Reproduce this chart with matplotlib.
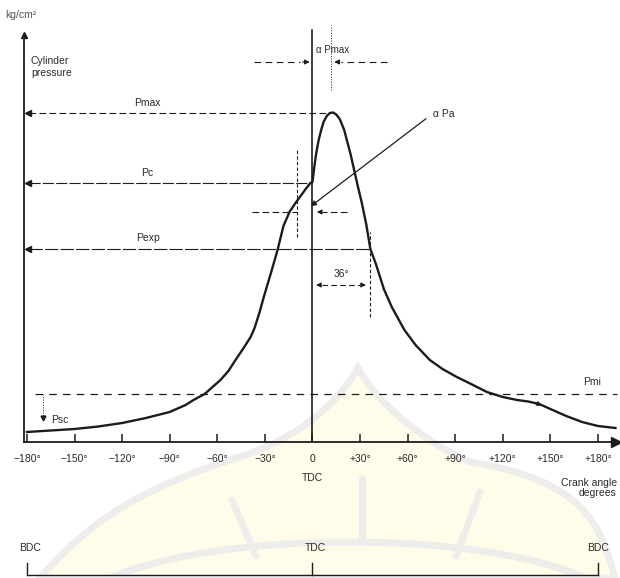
import matplotlib
matplotlib.use("Agg")
import matplotlib.pyplot as plt
from matplotlib.path import Path
from matplotlib.patches import PathPatch

plt.rcParams['font.family'] = ['Liberation Sans', 'DejaVu Sans']

# ---- data (crank angle in degrees, cylinder pressure in kg/cm^2) ----
crank_angle = [-180, -165, -150, -135, -120, -105, -90, -80, -75, -68, -63, -58, -53, -48.5,
               -43, -39, -36.5, -33.5, -30.5, -26, -22, -18.3, -14.5, -10.7, -7, -3.8, -1.3, 0,
               1, 2, 3, 4, 5.5, 7, 9, 11, 13, 15, 17, 18.5, 20, 22, 24, 27, 29, 31, 34, 36.5,
               40, 45, 50, 58, 65, 74, 82, 91, 100, 110, 120, 129, 136, 143, 150, 160, 170,
               180, 191]
pressure = [2.0, 2.3, 2.6, 3.1, 3.8, 4.8, 6.0, 7.4, 8.4, 9.6, 11.0, 12.4, 14.2, 16.4,
            19.0, 21.0, 22.8, 25.8, 29.2, 34.0, 38.4, 43.2, 46.0, 47.8, 49.4, 50.8, 51.8, 52.0,
            54.6, 57.0, 58.9, 60.5, 62.4, 64.0, 65.2, 65.8, 65.9, 65.5, 64.7, 63.6, 62.4, 60.0,
            57.6, 53.4, 50.6, 48.0, 43.4, 38.6,
            35.6, 30.6, 27.0, 22.4, 19.4, 16.4, 14.6, 13.0, 11.6, 10.0, 9.0, 8.4, 8.1, 7.6,
            6.6, 5.2, 4.0, 3.2, 2.8]

tick_values = [-180, -150, -120, -90, -60, -30, 0, 30, 60, 90, 120, 150, 180]
tick_labels = ["\u2212180\u00b0", "\u2212150\u00b0", "\u2212120\u00b0", "\u221290\u00b0", "\u221260\u00b0",
               "\u221230\u00b0", "0", "+30\u00b0", "+60\u00b0", "+90\u00b0", "+120\u00b0", "+150\u00b0",
               "+180\u00b0"]

p_max = 65.9
p_c = 51.8
p_exp = 38.6
p_mi = 9.6
p_a = 46.8
p_ign = 46.0
angle_pmax = 12
angle_ign = -9.5
angle_exp = 36

ink = "#1c1c1c"
txt = "#2a2a2a"
wm_band = "#ededeb"
wm_fill = "#fffce9"

fig = plt.figure(figsize=(6.2, 5.78), dpi=100)

# faint watermark behind the chart (pixel coordinates)
bg = fig.add_axes([0, 0, 1, 1], zorder=0)
bg.set_xlim(0, 620)
bg.set_ylim(578, 0)
bg.axis('off')
dome = Path([(40, 578), (90, 520), (140, 490), (230, 460), (300, 440), (340, 400), (358, 368),
             (375, 400), (420, 440), (470, 462), (580, 480), (600, 520), (615, 578), (40, 578)],
            [Path.MOVETO, Path.CURVE4, Path.CURVE4, Path.CURVE4, Path.CURVE4, Path.CURVE4, Path.CURVE4,
             Path.CURVE4, Path.CURVE4, Path.CURVE4, Path.CURVE4, Path.CURVE4, Path.CURVE4, Path.CLOSEPOLY])
bg.add_patch(PathPatch(dome, facecolor=wm_fill, edgecolor=wm_band, lw=5))
for (x0, y0, x1, y1) in [(232, 500, 256, 556), (362, 478, 362, 540), (480, 492, 456, 556)]:
    bg.plot([x0, x1], [y0, y1], color=wm_band, lw=5, solid_capstyle='round')
arc = Path([(110, 578), (220, 530), (480, 530), (585, 578)],
           [Path.MOVETO, Path.CURVE4, Path.CURVE4, Path.CURVE4])
bg.add_patch(PathPatch(arc, facecolor='none', edgecolor=wm_band, lw=5))

ax = fig.add_axes([0, 0, 1, 1], zorder=1)
ax.patch.set_alpha(0)
ax.set_xlim(-197.0, 193.9)
ax.set_ylim(-27.2, 88.4)

# axes as spines
for s in ['top', 'right']:
    ax.spines[s].set_visible(False)
ax.spines['bottom'].set_position(('data', 0))
ax.spines['bottom'].set_bounds(-182, 189)
ax.spines['left'].set_position(('data', -182))
ax.spines['left'].set_bounds(0, 80.5)
for s in ['bottom', 'left']:
    ax.spines[s].set_linewidth(1.3)
    ax.spines[s].set_color(ink)
ax.set_xticks(tick_values)
ax.set_xticklabels(tick_labels)
ax.tick_params(axis='x', direction='in', length=6, width=1.1, pad=9, labelsize=7.5,
               colors=ink, labelcolor=txt)
ax.set_yticks([])
ax.plot([191.5], [0], marker='>', ms=7, color=ink, clip_on=False)
ax.plot([-182], [81.5], marker='^', ms=5, color=ink, clip_on=False)

# TDC line
ax.plot([0, 0], [0, 82.4], color=ink, lw=1.2)

# pressure curve
ax.plot(crank_angle, pressure, color=ink, lw=1.7, solid_joinstyle='round')
ax.annotate('', xy=(146, 7.0), xytext=(141, 7.8),
            arrowprops=dict(arrowstyle='-|>', color=ink, lw=0.8, mutation_scale=7))

def left_arrow_line(x0, x1, y, ls):
    ax.plot([x0 + 2, x1], [y, y], color=ink, lw=0.8, ls=ls)
    ax.plot([x0 + 1.5], [y], marker='<', ms=4.5, color=ink)

# level lines
left_arrow_line(-181, angle_pmax, p_max, (0, (6, 3)))
left_arrow_line(-181, 0, p_c, (0, (10, 2)))
left_arrow_line(-181, angle_exp, p_exp, (0, (12, 2)))
ax.plot([-175, 192], [p_mi, p_mi], color=ink, lw=0.9, ls=(0, (6, 5)))

ax.text(-104, p_max + 2.0, "Pmax", fontsize=7.5, color=txt, ha='center', va='center')
ax.text(-104, p_c + 2.0, "Pc", fontsize=7.5, color=txt, ha='center', va='center')
ax.text(-104, p_exp + 2.2, "Pexp", fontsize=7.5, color=txt, ha='center', va='center')
ax.text(176, p_mi + 2.4, "Pmi", fontsize=7.5, color=txt, ha='center', va='center')

# Psc
ax.plot([-170, -170], [p_mi, 5.2], color=ink, lw=0.7, ls=':')
ax.plot([-170], [4.8], marker='v', ms=3.5, color=ink)
ax.text(-165, 4.4, "Psc", fontsize=7.5, color=txt, ha='left', va='center')

# axis labels
ax.text(-194, 85.4, "kg/cm\u00b2", fontsize=7.5, color="#555555", ha='left', va='center')
ax.text(-177.5, 75.0, "Cylinder\npressure", fontsize=7.5, color=txt, ha='left', va='center',
        linespacing=1.2)
ax.text(0, -7.2, "TDC", fontsize=7.5, color=txt, ha='center', va='center')
ax.text(192, -9.2, "Crank angle\ndegrees", fontsize=7.5, color=txt, ha='right', va='center',
        linespacing=1.1)

# alpha Pmax dimension
ax.plot([angle_pmax, angle_pmax], [70.4, 83.4], color=ink, lw=0.7, ls=':')
ax.plot([-37, -8], [76, 76], color=ink, lw=0.8, ls=(0, (6, 4)))
ax.annotate('', xy=(0, 76), xytext=(-8, 76),
            arrowprops=dict(arrowstyle='-|>', color=ink, lw=0.8, mutation_scale=7))
ax.plot([47, angle_pmax + 6], [76, 76], color=ink, lw=0.8, ls=(0, (6, 4)))
ax.annotate('', xy=(angle_pmax, 76), xytext=(angle_pmax + 7, 76),
            arrowprops=dict(arrowstyle='-|>', color=ink, lw=0.8, mutation_scale=7))
ax.text(2.5, 78.4, "\u03b1 Pmax", fontsize=7, color=txt, ha='left', va='center')

# alpha Pa pointer
ax.annotate('', xy=(-2.5, p_a), xytext=(73, 65.0),
            arrowprops=dict(arrowstyle='-|>', color=ink, lw=0.9, mutation_scale=8))
ax.text(76, 65.6, "\u03b1 Pa", fontsize=7.5, color=txt, ha='left', va='center')

# ignition marker
ax.plot([angle_ign, angle_ign], [41.0, 58.4], color=ink, lw=0.8, ls=(0, (3, 2)))
ax.plot([-38, angle_ign], [p_ign, p_ign], color=ink, lw=0.8, ls=(0, (6, 3)))
ax.plot([22, 6], [p_ign, p_ign], color=ink, lw=0.8, ls=(0, (6, 3)))
ax.annotate('', xy=(1, p_ign), xytext=(7, p_ign),
            arrowprops=dict(arrowstyle='-|>', color=ink, lw=0.8, mutation_scale=7))

# 36 degree dimension
ax.plot([angle_exp, angle_exp], [25.0, 42.0], color=ink, lw=0.8, ls=(0, (3, 2)))
ax.plot([6, angle_exp - 6], [31.4, 31.4], color=ink, lw=0.8, ls=(0, (5, 3)))
ax.annotate('', xy=(0.5, 31.4), xytext=(6, 31.4),
            arrowprops=dict(arrowstyle='-|>', color=ink, lw=0.8, mutation_scale=7))
ax.annotate('', xy=(angle_exp - 0.5, 31.4), xytext=(angle_exp - 6, 31.4),
            arrowprops=dict(arrowstyle='-|>', color=ink, lw=0.8, mutation_scale=7))
ax.text(18, 33.6, "36\u00b0", fontsize=7.5, color=txt, ha='center', va='center')

# BDC / TDC bracket
ax.plot([-180, 180], [-26.6, -26.6], color=ink, lw=1.0)
for a in [-180, 0, 180]:
    ax.plot([a, a], [-26.6, -24.2], color=ink, lw=1.0)
ax.text(-178, -21.2, "BDC", fontsize=7.5, color=txt, ha='center', va='center')
ax.text(2, -21.2, "TDC", fontsize=7.5, color=txt, ha='center', va='center')
ax.text(180, -21.2, "BDC", fontsize=7.5, color=txt, ha='center', va='center')

fig.savefig("out.png", dpi=100)
